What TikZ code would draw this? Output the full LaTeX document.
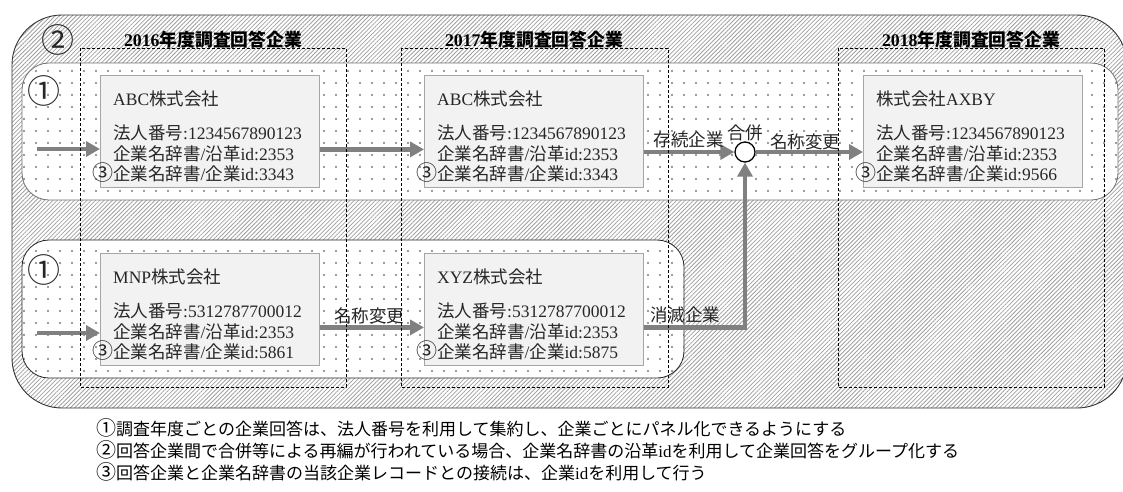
\documentclass[tikz,border=0pt]{standalone}
\usepackage{fontspec}
\setmainfont{Liberation Serif}
\newfontfamily\cjk{Noto Sans CJK JP}
\usetikzlibrary{patterns.meta,calc,arrows.meta}
\definecolor{flowgray}{HTML}{808080}
\definecolor{boxfill}{HTML}{F2F2F2}
\definecolor{boxline}{HTML}{A6A6A6}
\definecolor{hatchgray}{HTML}{A0A0A0}
\definecolor{dotgray}{HTML}{7A7A7A}
\newcommand\J[1]{{\cjk #1}}
\newcommand\CN[1]{{\cjk\fontsize{21}{21}\selectfont #1}}
\newcommand\firmbox[7]{%
  \node[cobox] (#1) at (#2,#3) {};
  \node[ctext] (#1-h) at ($(#1.north west)+(13,30)$) {#4};
  \node[ctext] (#1-a) at ($(#1.north west)+(13,64)$) {#5};
  \node[ctext] (#1-b) at ($(#1.north west)+(13,85)$) {#6};
  \node[ctext] (#1-c) at ($(#1.north west)+(13,105)$) {\llap{\CN{③}}#7};
}
\begin{document}
\begin{tikzpicture}[x=1pt,y=-1pt,
  outerzone/.style={draw=black!80, line width=0.9pt, rounded corners=50pt,
    preaction={fill=white}, pattern={Lines[angle=45,distance=3pt,line width=0.8pt]}, pattern color=hatchgray},
  rowzone/.style={line width=0.8pt, rounded corners=27pt,
    preaction={fill=white}, pattern={Dots[distance=12pt,radius=1.1pt]}, pattern color=dotgray},
  yearcol/.style={draw=black, line width=0.7pt, dash pattern=on 3pt off 2pt},
  cobox/.style={draw=boxline, fill=boxfill, line width=0.8pt, minimum width=219pt,
    minimum height=112pt, inner sep=0pt, anchor=north west},
  ctext/.style={font=\fontsize{17.5}{21}\selectfont, text=black!85, inner sep=0pt, anchor=base west},
  yeartitle/.style={font=\fontsize{17.8}{20}\selectfont\bfseries, inner sep=0pt, anchor=base},
  circnum/.style={font=\fontsize{33}{34}\selectfont, inner sep=0pt, text=black!85},
  flow/.style={draw=flowgray, line width=4.5pt, -{Triangle[length=14pt,width=15pt]}},
  merge/.style={circle, draw=black, line width=1.3pt, fill=white, minimum size=20pt, inner sep=0pt},
  flowlabel/.style={font=\fontsize{17.5}{20}\selectfont, text=black!85, inner sep=0pt},
  note/.style={font=\fontsize{17}{21}\selectfont, inner sep=0pt, anchor=base west}
]
\useasboundingbox (0,0) rectangle (1123,491);
% zones
\path[outerzone] (12,15) rectangle (1127,408);
\path[rowzone, draw=black!55] (22,63) rectangle (1118,200);
\path[rowzone, draw=black!85] (22,240) rectangle (684,378);
% circled numbers
\node[circnum] (n2) at (58,40) {\J{②}};
\node[circnum] (n1a) at (44,91) {\J{①}};
\node[circnum] (n1b) at (44,270) {\J{①}};
% titles
\node[yeartitle] (t16) at (213,46) {2016\J{年度調査回答企業}};
\node[yeartitle] (t17) at (534,46) {2017\J{年度調査回答企業}};
\node[yeartitle] (t18) at (971,46) {2018\J{年度調査回答企業}};
% boxes
\firmbox{b16}{100}{75}{ABC\J{株式会社}}{\J{法人番号}:1234567890123}{\J{企業名辞書}/\J{沿革}id:2353}{\J{企業名辞書}/\J{企業}id:3343}
\firmbox{b17}{424}{75}{ABC\J{株式会社}}{\J{法人番号}:1234567890123}{\J{企業名辞書}/\J{沿革}id:2353}{\J{企業名辞書}/\J{企業}id:3343}
\firmbox{b18}{863}{75}{\J{株式会社}AXBY}{\J{法人番号}:1234567890123}{\J{企業名辞書}/\J{沿革}id:2353}{\J{企業名辞書}/\J{企業}id:9566}
\firmbox{mnp}{100}{253}{MNP\J{株式会社}}{\J{法人番号}:5312787700012}{\J{企業名辞書}/\J{沿革}id:2353}{\J{企業名辞書}/\J{企業}id:5861}
\firmbox{xyz}{424}{253}{XYZ\J{株式会社}}{\J{法人番号}:5312787700012}{\J{企業名辞書}/\J{沿革}id:2353}{\J{企業名辞書}/\J{企業}id:5875}
% merge point
\node[merge] (mg) at (745,152) {};
% connectors
\coordinate (in1) at (37,149);
\coordinate (in2) at (37,333);
\draw[flow] (in1) -- (b16.west |- in1);
\draw[flow] ([yshift=-18pt]b16.east) -- ([yshift=-18pt]b17.west);
\draw[flow] (b17.east |- mg) -- (mg.west);
\draw[flow] (mg.east) -- (b18.west |- mg);
\draw[flow] (in2) -- (mnp.west |- in2);
\draw[flow] ([yshift=-18pt]mnp.east) -- ([yshift=-18pt]xyz.west);
\draw[flow] ([yshift=-18pt]xyz.east) -| (mg.south);
% year columns
\draw[yearcol] (80,48) rectangle (346,387);
\draw[yearcol] (401,48) rectangle (668,387);
\draw[yearcol] (838,48) rectangle (1104,387);
% labels
\node[flowlabel, anchor=base east] (lk) at (724,146) {\J{存続企業}};
\node[flowlabel, anchor=base] (lm) at (745,139) {\J{合併}};
\node[flowlabel, anchor=base west] (lr1) at (770,148) {\J{名称変更}};
\node[flowlabel, anchor=base] (lr2) at (369,322) {\J{名称変更}};
\node[flowlabel, anchor=base west] (ld) at (650,321) {\J{消滅企業}};
% notes
\node[note] (f1) at (96,435) {{\cjk\fontsize{20}{21}\selectfont ①}\J{調査年度ごとの企業回答は、法人番号を利用して集約し、企業ごとにパネル化できるようにする}};
\node[note] (f2) at (96,457) {{\cjk\fontsize{20}{21}\selectfont ②}\J{回答企業間で合併等による再編が行われている場合、企業名辞書の沿革}id\J{を利用して企業回答をグループ化する}};
\node[note] (f3) at (96,479) {{\cjk\fontsize{20}{21}\selectfont ③}\J{回答企業と企業名辞書の当該企業レコードとの接続は、企業}id\J{を利用して行う}};
\end{tikzpicture}
\end{document}
